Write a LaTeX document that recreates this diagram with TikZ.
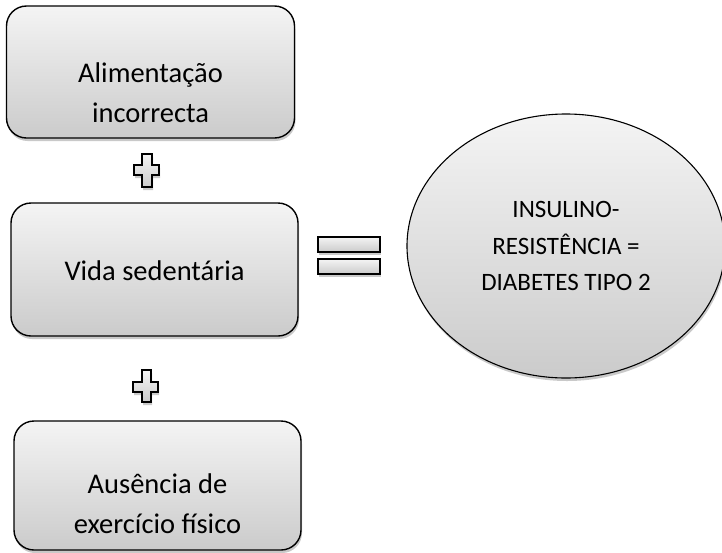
\documentclass[tikz,border=0pt]{standalone}
\usepackage{fontspec}
\setmainfont{Carlito}
\usetikzlibrary{shapes.geometric,shadows}
\definecolor{shadetop}{HTML}{F4F4F4}
\definecolor{shadebot}{HTML}{CBCBCB}
\tikzset{
  softshadow/.style={drop shadow={shadow xshift=1pt,shadow yshift=-3pt,opacity=0.3,fill=black!70}},
  causebox/.style={draw=black,line width=1.4pt,rounded corners=20pt,top color=shadetop,bottom color=shadebot,
    softshadow,inner sep=0pt},
  boxtext/.style={align=center,inner sep=0pt,font=\fontsize{28.5}{40}\selectfont},
  resultoval/.style={draw=black,line width=1.1pt,ellipse,top color=shadetop,bottom color=shadebot,
    softshadow,inner sep=0pt,align=center,font=\fontsize{25}{36.5}\selectfont},
  signpart/.style={draw=black,line width=1.6pt,top color=shadetop,bottom color=shadebot,softshadow}
}
\begin{document}
\begin{tikzpicture}[x=1pt,y=-1pt]
  \useasboundingbox (0,0) rectangle (722,552);
  % causes
  \node[causebox,minimum width=288pt,minimum height=132pt] (food) at (150.5,72) {};
  \node[boxtext] (foodtext) at ([yshift=-21pt]food.center) {Alimentação\\incorrecta};
  \node[causebox,minimum width=287pt,minimum height=133pt] (idle) at (154.5,269.5) {};
  \node[boxtext] (idletext) at ([yshift=-1pt]idle.center) {Vida sedentária};
  \node[causebox,minimum width=287pt,minimum height=129pt] (noexercise) at (157.5,485.5) {};
  \node[boxtext] (noexercisetext) at ([yshift=-18pt]noexercise.center) {Ausência de\\exercício físico};
  % result
  \node[resultoval,minimum width=318pt,minimum height=264pt] (diabetes) at (566,246) {INSULINO-\\RESISTÊNCIA =\\DIABETES TIPO 2};
  % plus signs
  \path[signpart] (142,154) -- (152,154) -- (152,165) -- (159,165) -- (159,175) -- (152,175) -- (152,187)
    -- (142,187) -- (142,175) -- (134,175) -- (134,165) -- (142,165) -- cycle;
  \path[signpart] (142,370) -- (151,370) -- (151,382) -- (158,382) -- (158,392) -- (151,392) -- (151,402)
    -- (142,402) -- (142,392) -- (133,392) -- (133,382) -- (142,382) -- cycle;
  % equals sign
  \path[signpart] (318,237) rectangle (380,252);
  \path[signpart] (318,259) rectangle (380,274);
\end{tikzpicture}
\end{document}
